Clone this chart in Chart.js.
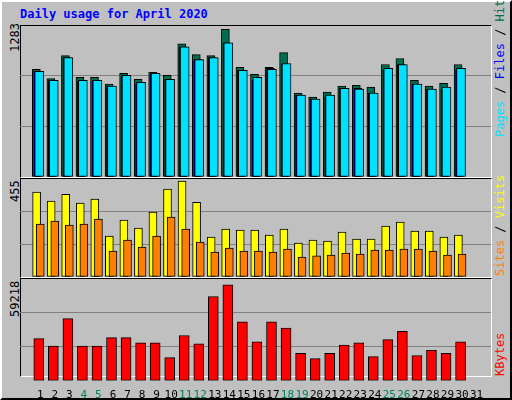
<!DOCTYPE html>
<html><head><meta charset="utf-8">
<script src="https://cdn.jsdelivr.net/npm/chart.js@4/dist/chart.umd.min.js"></script>
<style>
body{margin:0;width:512px;height:400px;background:#c0c0c0;position:relative;overflow:hidden;font-family:"DejaVu Sans Mono",monospace}
#outer{position:absolute;left:0;top:0;width:508px;height:396px;border-top:2px solid #fff;border-left:2px solid #fff;border-right:2px solid #000;border-bottom:2px solid #000;box-sizing:content-box}
.t{position:absolute;font-size:11px;white-space:nowrap}
.panel{position:absolute;left:20px;width:470px;border-top:1px solid #000;border-left:1px solid #000;border-right:1px solid #fff;border-bottom:1px solid #fff}
.rot{position:absolute;transform-origin:left top;transform:rotate(-90deg);font-size:12px;white-space:nowrap}
canvas{position:absolute}
</style></head><body>
<div id="outer"></div>
<div class="t" style="left:20px;top:7px;color:#0000ff;font-weight:bold;font-size:12px">Daily usage for April 2020</div>
<div class="panel" style="top:25px;height:151px"></div>
<div class="panel" style="top:178px;height:98px"></div>
<div class="panel" style="top:278px;height:97px"></div>
<div class="rot" id="m1" style="left:8px;top:52px"></div>
<div class="rot" id="m2" style="left:8px;top:202px"></div>
<div class="rot" id="m3" style="left:8px;top:317px"></div>
<div class="rot" style="left:493px;top:137px"><span style="color:#00e0ff">Pages</span> / <span style="color:#0000ff">Files</span> / <span style="color:#006c50">Hits</span></div>
<div class="rot" style="left:493px;top:276px"><span style="color:#ff8000">Sites</span> / <span style="color:#ffff00">Visits</span></div>
<div class="rot" style="left:493px;top:376px;color:#ff0000">KBytes</div>
<canvas id="c1" style="left:20px;top:25px;width:471px;height:152px"></canvas>
<canvas id="c2" style="left:20px;top:178px;width:471px;height:99px"></canvas>
<canvas id="c3" style="left:20px;top:278px;width:471px;height:124px"></canvas>
<script>
const days=[1,2,3,4,5,6,7,8,9,10,11,12,13,14,15,16,17,18,19,20,21,22,23,24,25,26,27,28,29,30,31];
const weekend=[4,5,11,12,18,19,25,26];
const hits=[934,854,1054,866,866,806,900,849,909,883,1157,1063,1054,1283,952,892,952,1080,729,694,737,789,797,780,977,1029,840,789,814,977];
const files=[917,840,1037,831,840,789,874,806,891,849,1131,1020,1037,1166,926,840,943,977,711,677,694,771,771,729,926,977,806,763,763,926];
const pages=[917,840,1037,840,840,789,883,823,900,849,1131,1020,1037,1166,926,866,934,986,711,677,711,771,763,729,943,977,806,763,780,943];
const visits=[403,360,393,351,370,194,270,232,308,417,455,355,190,228,223,223,199,228,161,175,171,213,180,180,242,261,218,218,190,199];
const sites=[251,265,246,251,275,123,175,142,194,284,228,166,118,137,123,123,118,133,95,100,104,114,109,128,128,133,133,123,104,109];
const kbytes=[24933,20570,36777,20570,20570,25557,25557,22440,22440,13714,26804,21817,49868,56725,34907,23064,34907,31168,16207,13091,16207,21194,22440,14337,24310,29297,14960,18077,16207,23064];
const maxLabels=["1283","455","59218"];
document.getElementById('m1').textContent=maxLabels[0];
document.getElementById('m2').textContent=maxLabels[1];
document.getElementById('m3').textContent=maxLabels[2];

function ds(vals,off,color,th,order){
  return {data:vals.map((v,i)=>({x:days[i]+off,y:v})),backgroundColor:color,borderColor:'#000',borderWidth:1,borderSkipped:false,barThickness:th,grouped:false,order:order};
}
function mk(id,datasets,max,showX){
  new Chart(document.getElementById(id),{type:'bar',data:{datasets},
    options:{responsive:false,animation:false,devicePixelRatio:1,
      layout:{padding:0},
      plugins:{legend:{display:false},tooltip:{enabled:false}},
      scales:{
        x:{type:'linear',min:0.13,max:31.47,display:showX,
           afterBuildTicks:s=>{s.ticks=days.map(v=>({value:v}));},
           grid:{display:false},border:{display:false},
           ticks:{autoSkip:false,maxRotation:0,padding:0,font:{family:'DejaVu Sans Mono',size:11},
             color:c=>weekend.includes(c.tick.value)?'#008060':'#000',
             callback:v=>String(v)}},
        y:{min:0,max:max,display:true,
           afterBuildTicks:s=>{s.ticks=[0,max/3,2*max/3,max].map(v=>({value:v}));},
           ticks:{display:false},border:{display:false},
           grid:{drawTicks:false,color:c=>(c.index===1||c.index===2)?'#808080':'rgba(0,0,0,0)'}}
      }}});
}
mk('c1',[ds(hits,-0.27,'#006c50',8,3),ds(files,-0.17,'#0000ff',8,2),ds(pages,-0.07,'#00e0ff',9,1)],1320,false);
mk('c2',[ds(visits,-0.25,'#ffff00',8,2),ds(sites,0,'#ff8000',8,1)],470,false);
mk('c3',[ds(kbytes,-0.1,'#ff0000',10,1)],60800,true);
</script></body></html>
